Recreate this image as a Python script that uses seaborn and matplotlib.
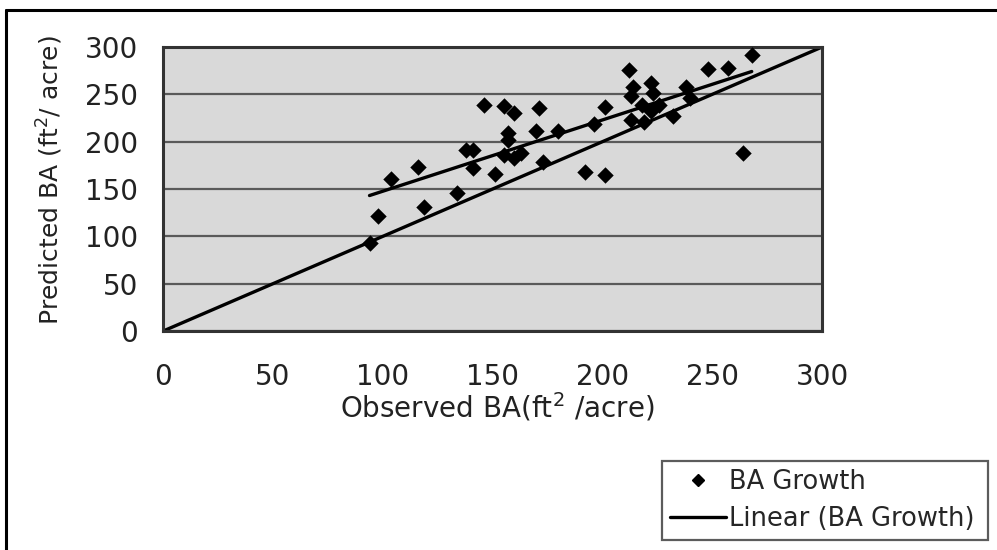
import numpy as np
import pandas as pd
import matplotlib
matplotlib.use("Agg")
import matplotlib.pyplot as plt
import seaborn as sns
from matplotlib.lines import Line2D

# observed vs predicted basal area (ft^2/acre)
observed = [94, 98, 104, 116, 119, 134, 138, 141, 141, 146, 151, 155, 160,
            157, 157, 155, 160, 163, 171, 170, 173, 180, 192, 196, 201, 201,
            212, 214, 222, 213, 223, 218, 213, 222, 219, 232, 226, 238, 240,
            248, 257, 268, 264]
predicted = [93, 122, 161, 173, 131, 146, 191, 191, 172, 239, 166, 238, 230,
             209, 202, 186, 183, 188, 236, 211, 179, 211, 168, 219, 165, 237,
             276, 258, 262, 248, 251, 239, 223, 232, 221, 227, 239, 258, 246,
             277, 278, 292, 188]
ticks = [0, 50, 100, 150, 200, 250, 300]

df = pd.DataFrame({"obs": observed, "pred": predicted})

sns.set_style("white")
plt.rcParams["font.family"] = ["DejaVu Sans"]

fig = plt.figure(figsize=(9.97, 5.5), dpi=100)
ax = fig.add_axes([0.1635, 0.398, 0.661, 0.5165])
ax.set_facecolor("#d9d9d9")

# 1:1 reference line
ax.axline((0, 0), slope=1, color="black", lw=2.4, zorder=2)

sns.regplot(data=df, x="obs", y="pred", ax=ax, ci=None, truncate=True,
            marker="D", color="black",
            scatter_kws={"s": 70, "zorder": 3, "linewidths": 0, "alpha": 1},
            line_kws={"lw": 2.4, "zorder": 2})

ax.set_xlim(0, 300)
ax.set_ylim(0, 300)
ax.set_xticks(ticks)
ax.set_yticks(ticks)
ax.yaxis.grid(True, color="#5a5a5a", lw=1.6)
ax.set_axisbelow(True)
for s in ax.spines.values():
    s.set_color("#333333")
    s.set_linewidth(2.2)

ax.tick_params(axis="both", labelsize=20, colors="#222222", direction="out",
               length=5, width=1.2)
ax.tick_params(axis="x", pad=18)
ax.tick_params(axis="y", pad=13)

ax.set_xlabel("Observed BA(ft$^2$ /acre)", fontsize=20, color="#222222")
ax.set_ylabel("Predicted BA (ft$^2$/ acre)", fontsize=18, color="#222222")
ax.xaxis.set_label_coords(0.507, -0.21)
ax.yaxis.set_label_coords(-0.148, 0.53)

handles = [
    Line2D([], [], marker="D", color="black", ls="none", markersize=6),
    Line2D([], [], color="black", lw=2.4),
]
leg = fig.legend(handles, ["BA Growth", "Linear (BA Growth)"],
                 loc="lower left", bbox_to_anchor=(0.664, 0.018, 0.327, 0.177),
                 mode="expand", fontsize=18.5, frameon=True, fancybox=False,
                 handlelength=2.2, handletextpad=0.1, borderpad=0.3,
                 labelspacing=0.45, borderaxespad=0)
leg.get_frame().set_edgecolor("#333333")
leg.get_frame().set_linewidth(1.6)

# outer frame of the figure (top and left edges visible)
fig.add_artist(Line2D([0.006, 1.0], [0.982, 0.982], color="black", lw=2.2))
fig.add_artist(Line2D([0.006, 0.006], [0.0, 0.982], color="black", lw=2.2))

fig.savefig("out.png", dpi=100)
